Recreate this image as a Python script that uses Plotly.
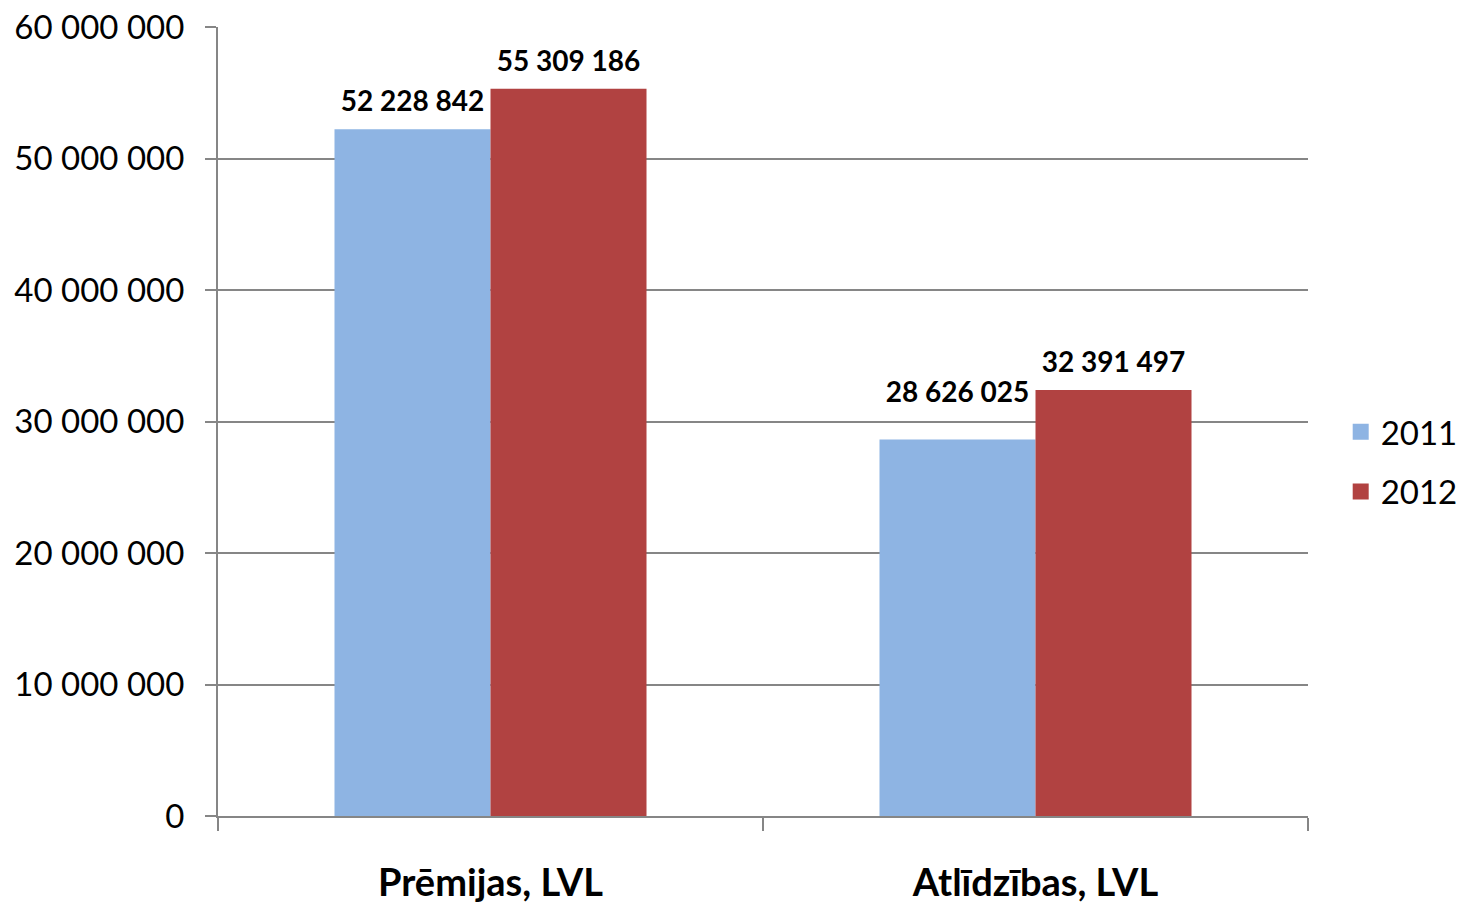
import plotly.graph_objects as go

categories = ["Prēmijas, LVL", "Atlīdzības, LVL"]
values_2011 = [52228842, 28626025]
values_2012 = [55309186, 32391497]
series_names = ["2011", "2012"]
y_ticks = [0, 10000000, 20000000, 30000000, 40000000, 50000000, 60000000]

colors = ["#8EB4E3", "#B14241"]
gray = "#868686"
# spacer size under each data label (style only)
label_pad = {"2011": [16, 48], "2012": [16, 16]}

fig = go.Figure()
for name, vals, col in zip(series_names, [values_2011, values_2012], colors):
    fig.add_trace(go.Bar(
        x=categories, y=vals, name=name, offsetgroup=name,
        marker=dict(color=col, line=dict(width=0)),
        showlegend=False, hoverinfo="skip",
    ))
# data labels, grouped like the bars
for name, vals in zip(series_names, [values_2011, values_2012]):
    fig.add_trace(go.Scatter(
        x=categories, y=vals, offsetgroup=name, mode="markers+text",
        marker=dict(size=label_pad[name], opacity=0),
        texttemplate="%{y:,d}", textposition="top center",
        textfont=dict(family="Lato", size=28, color="black", weight="bold"),
        cliponaxis=False, showlegend=False, hoverinfo="skip",
    ))
# legend entries
for name, col in zip(series_names, colors):
    fig.add_trace(go.Scatter(
        x=[None], y=[None], name=name, mode="markers", legendgroup=name,
        marker=dict(symbol="square", size=21, color=col),
    ))

fig.update_layout(
    width=1465, height=904,
    margin=dict(l=218, r=157, t=27, b=88, autoexpand=False),
    paper_bgcolor="white", plot_bgcolor="white",
    separators=", ",
    barmode="group", bargap=0.4275, bargroupgap=0,
    scattermode="group", scattergap=0.4275,
    font=dict(family="Lato", size=33, color="black"),
    legend=dict(x=1.03, y=0.449, xanchor="left", yanchor="middle",
                font=dict(family="Lato", size=33), tracegroupgap=14,
                traceorder="grouped", itemwidth=30),
    showlegend=True,
)
fig.update_xaxes(
    showline=True, linecolor=gray, linewidth=2,
    ticks="outside", tickson="boundaries", ticklen=13, tickcolor=gray, tickwidth=2,
    tickfont=dict(family="Lato", size=38, color="black", weight="bold"),
    showgrid=False, automargin=False, ticklabelstandoff=32,
)
fig.update_yaxes(
    range=[0, 60000000], tickvals=y_ticks, tickformat=",d",
    showline=True, linecolor=gray, linewidth=2,
    ticks="outside", ticklen=11, tickcolor=gray, tickwidth=2,
    showgrid=True, gridcolor=gray, gridwidth=1.5,
    zeroline=False, automargin=False, ticklabeloverflow="allow",
    tickfont=dict(family="Lato", size=33, color="black"),
    ticklabelstandoff=14,
)

fig.write_html("out.html", config={"displayModeBar": False},
               post_script="document.body.style.margin='0';document.body.style.overflow='hidden';")
